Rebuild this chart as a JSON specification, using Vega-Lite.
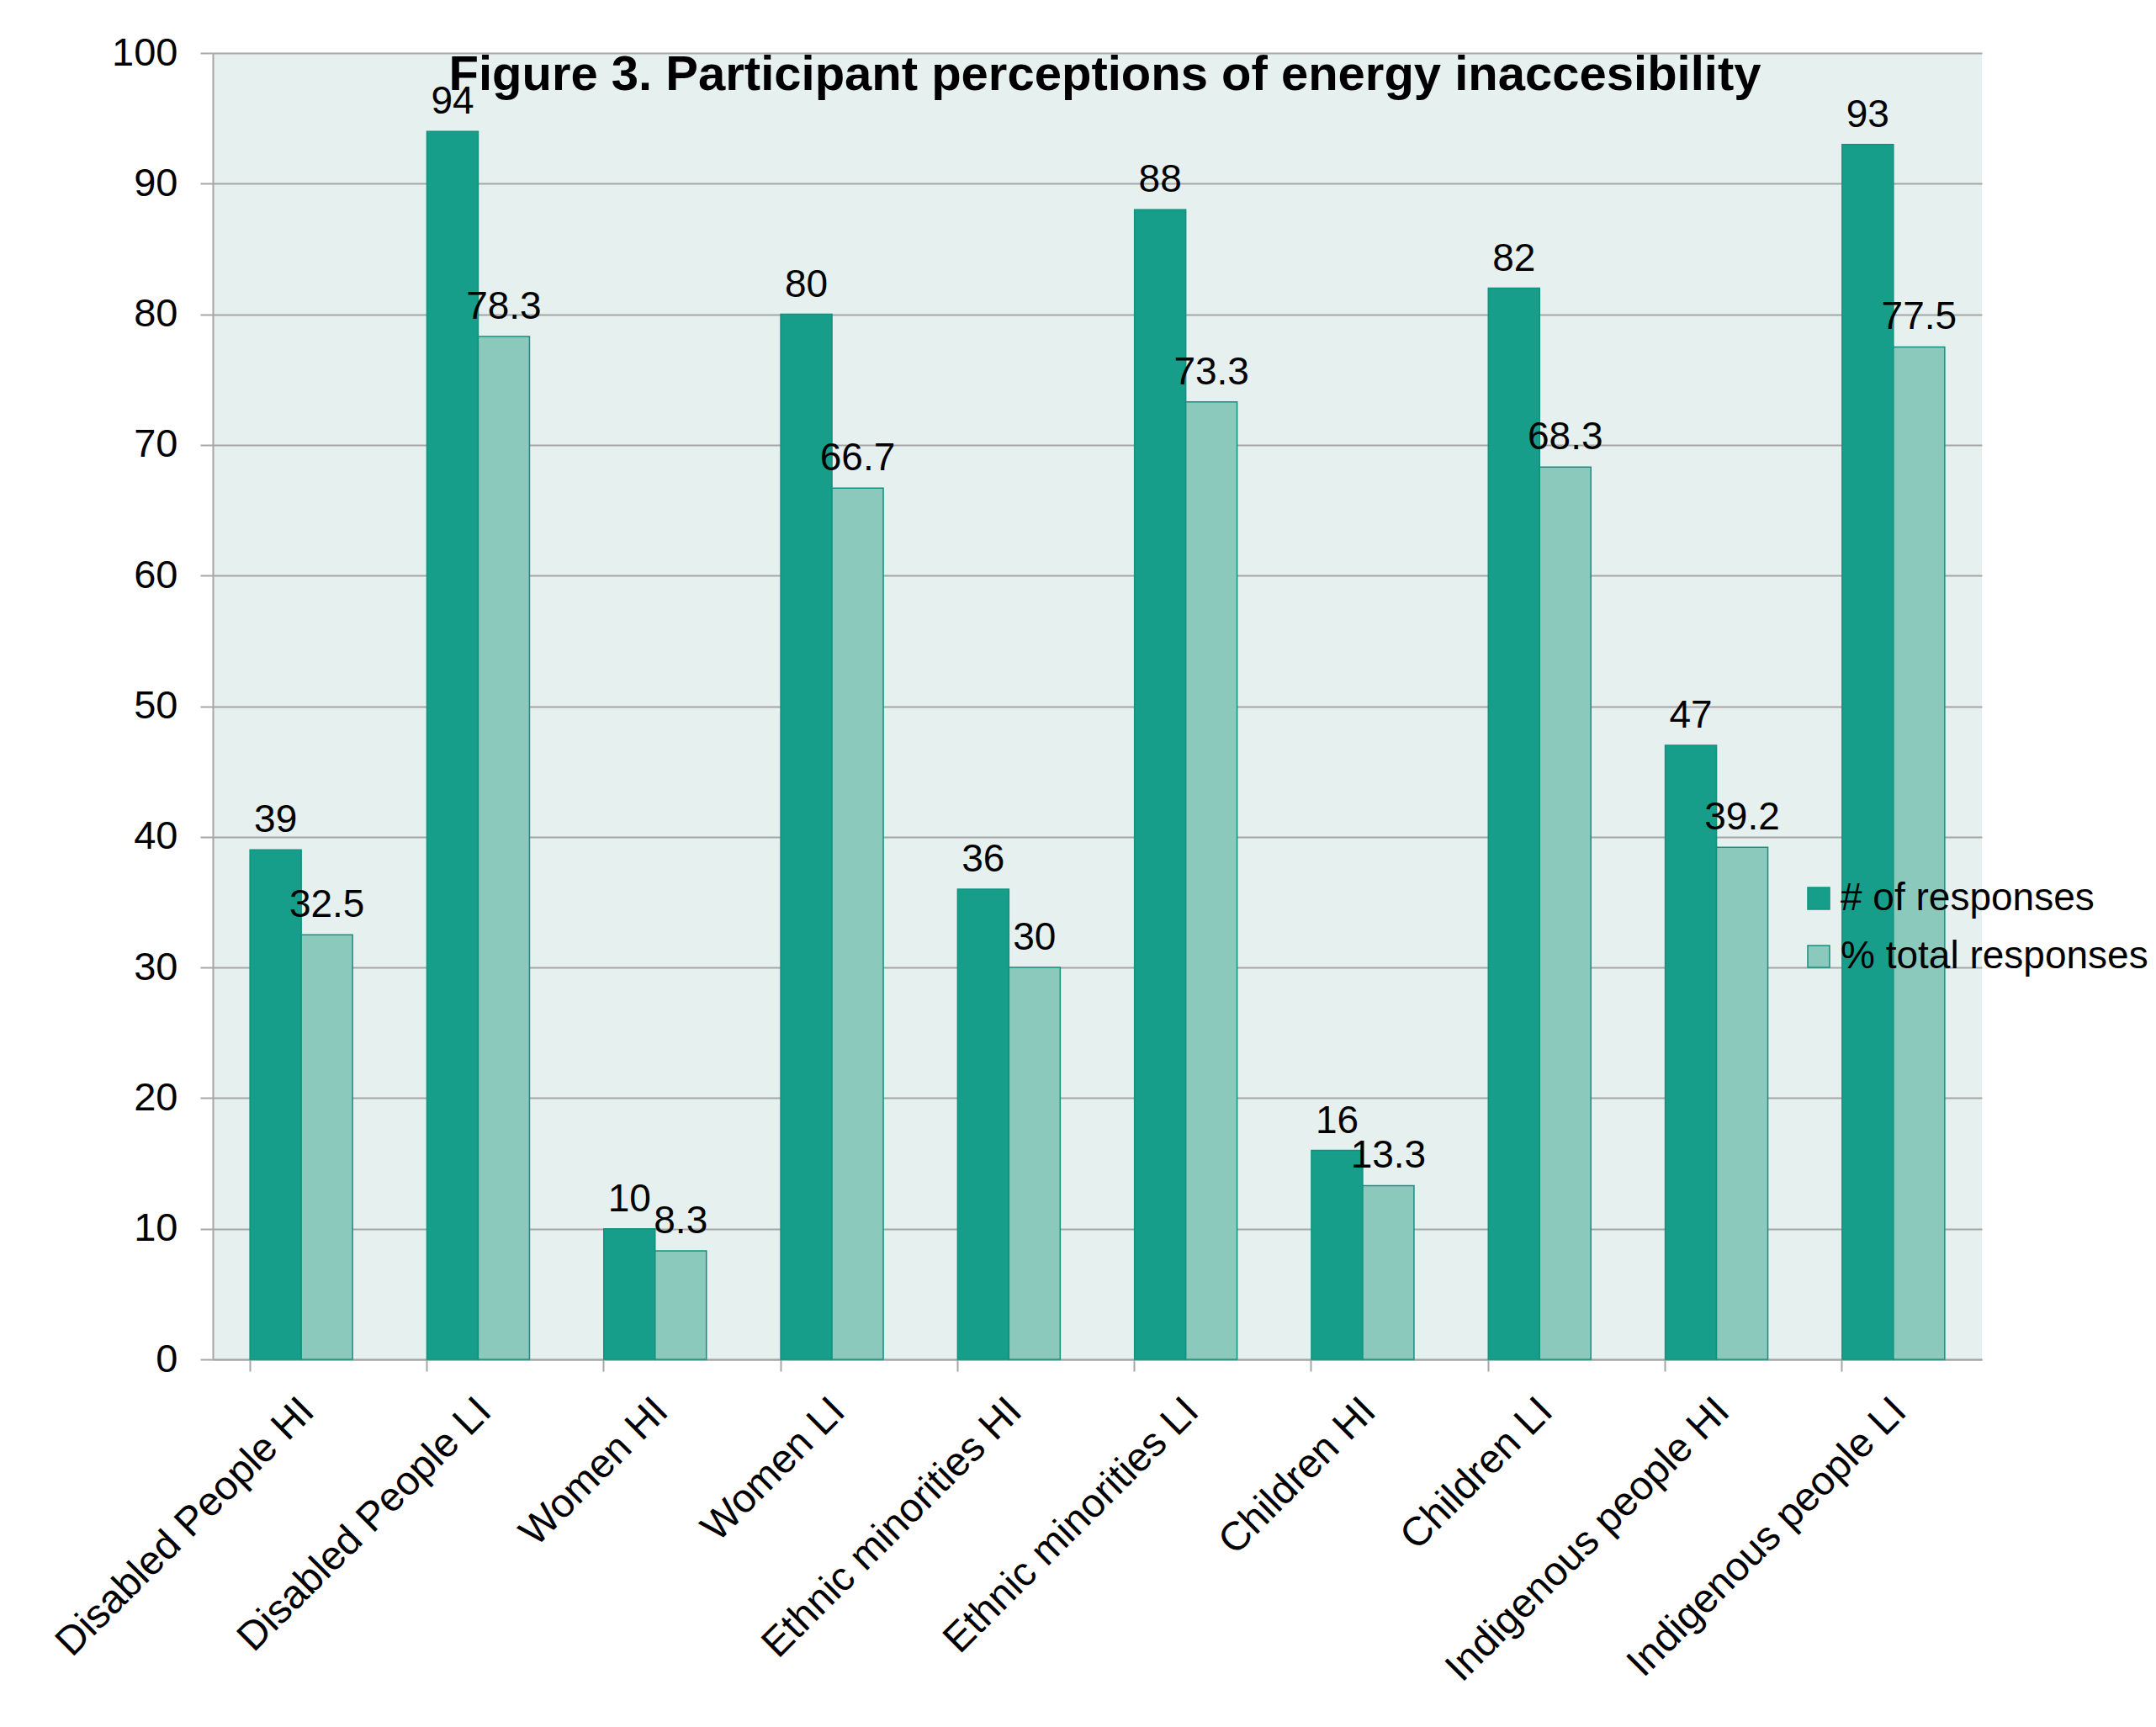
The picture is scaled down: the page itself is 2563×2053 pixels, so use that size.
{
  "$schema": "https://vega.github.io/schema/vega-lite/v6.json",
  "autosize": {"type": "none"},
  "padding": {"left": 253, "top": 63, "right": 207, "bottom": 437},
  "width": 2103,
  "height": 1553,
  "background": "#ffffff",
  "title": {
    "text": "Figure 3. Participant perceptions of energy inaccesibility",
    "font": "Liberation Sans",
    "fontSize": 58,
    "fontWeight": "bold",
    "color": "#000000",
    "anchor": "middle",
    "frame": "group",
    "baseline": "alphabetic",
    "offset": -44,
    "dx": 9,
    "dy": 82
  },
  "config": {
    "font": "Liberation Sans",
    "view": {"fill": "#e6f0ee", "stroke": null}
  },
  "data": {
    "values": [
      {"group": "Disabled People HI", "series": "# of responses", "value": 39},
      {"group": "Disabled People HI", "series": "% total responses", "value": 32.5},
      {"group": "Disabled People LI", "series": "# of responses", "value": 94},
      {"group": "Disabled People LI", "series": "% total responses", "value": 78.3},
      {"group": "Women HI", "series": "# of responses", "value": 10},
      {"group": "Women HI", "series": "% total responses", "value": 8.3},
      {"group": "Women LI", "series": "# of responses", "value": 80},
      {"group": "Women LI", "series": "% total responses", "value": 66.7},
      {"group": "Ethnic minorities HI", "series": "# of responses", "value": 36},
      {"group": "Ethnic minorities HI", "series": "% total responses", "value": 30},
      {"group": "Ethnic minorities  LI", "series": "# of responses", "value": 88},
      {"group": "Ethnic minorities  LI", "series": "% total responses", "value": 73.3},
      {"group": "Children HI", "series": "# of responses", "value": 16},
      {"group": "Children HI", "series": "% total responses", "value": 13.3},
      {"group": "Children  LI", "series": "# of responses", "value": 82},
      {"group": "Children  LI", "series": "% total responses", "value": 68.3},
      {"group": "Indigenous people HI", "series": "# of responses", "value": 47},
      {"group": "Indigenous people HI", "series": "% total responses", "value": 39.2},
      {"group": "Indigenous people  LI", "series": "# of responses", "value": 93},
      {"group": "Indigenous people  LI", "series": "% total responses", "value": 77.5}
    ]
  },
  "encoding": {
    "x": {
      "field": "group",
      "type": "nominal",
      "sort": null,
      "scale": {"paddingInner": 0.42, "paddingOuter": 0.21},
      "axis": {
        "title": null,
        "bandPosition": 0,
        "labelOffset": 8,
        "labelAngle": -45,
        "labelAlign": "right",
        "labelBaseline": "middle",
        "labelFont": "Liberation Sans",
        "labelFontSize": 48,
        "labelColor": "#000000",
        "labelPadding": 40,
        "labelLimit": 0,
        "domainColor": "#a6a6a6",
        "domainWidth": 2,
        "tickColor": "#a6a6a6",
        "tickWidth": 2,
        "tickSize": 14,
        "grid": false
      }
    },
    "xOffset": {"field": "series", "type": "nominal", "scale": {"paddingInner": 0, "paddingOuter": 0}},
    "y": {
      "field": "value",
      "type": "quantitative",
      "scale": {"domain": [0, 100], "nice": false},
      "axis": {
        "title": null,
        "values": [0, 10, 20, 30, 40, 50, 60, 70, 80, 90, 100],
        "labelFont": "Liberation Sans",
        "labelFontSize": 47,
        "labelColor": "#000000",
        "labelPadding": 27,
        "domainColor": "#a6a6a6",
        "domainWidth": 2,
        "tickColor": "#a6a6a6",
        "tickWidth": 2,
        "tickSize": 15,
        "gridColor": "#a6a6a6",
        "gridWidth": 2
      }
    }
  },
  "layer": [
    {
      "mark": {"type": "bar", "stroke": "#12917f", "strokeWidth": 1.5},
      "encoding": {
        "color": {
          "field": "series",
          "type": "nominal",
          "scale": {"domain": ["# of responses", "% total responses"], "range": ["#179e8a", "#8cc9bd"]},
          "legend": {
            "title": null,
            "orient": "none",
            "legendX": 1886,
            "legendY": 982,
            "padding": 0,
            "symbolType": "square",
            "symbolSize": 676,
            "symbolStrokeColor": "#12917f",
            "symbolStrokeWidth": 1.5,
            "labelFont": "Liberation Sans",
            "labelFontSize": 46,
            "labelColor": "#000000",
            "labelOffset": 3,
            "labelLimit": 0,
            "rowPadding": 23
          }
        }
      }
    },
    {
      "mark": {"type": "text", "font": "Liberation Sans", "fontSize": 46, "color": "#000000", "baseline": "alphabetic", "dy": -21},
      "encoding": {
        "text": {"field": "value", "type": "quantitative"}
      }
    }
  ]
}
